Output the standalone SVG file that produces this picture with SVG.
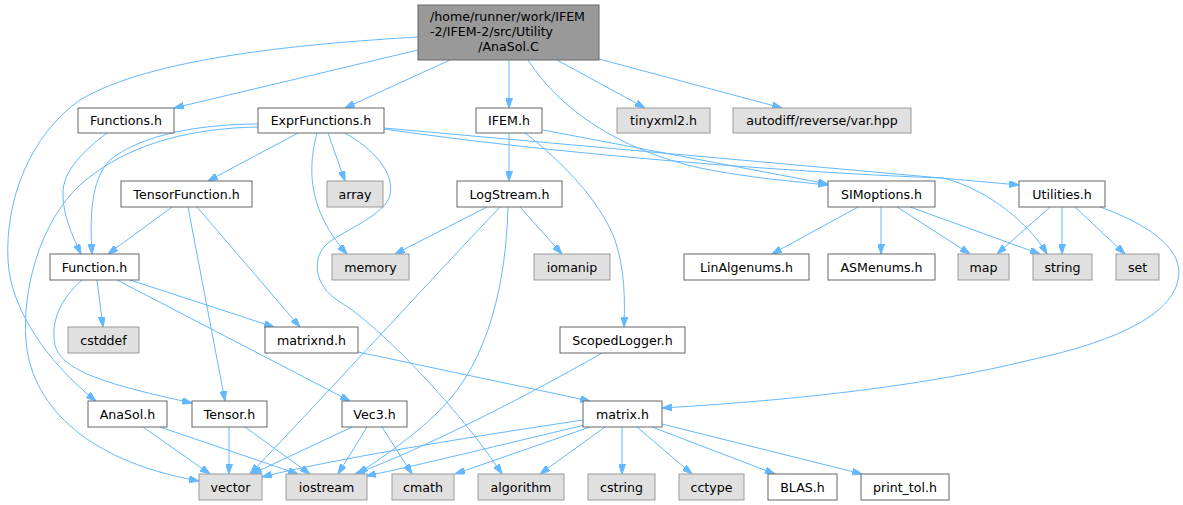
<svg xmlns="http://www.w3.org/2000/svg" width="1183" height="505" viewBox="0 0 1183 505">
<defs>
<marker id="ah" viewBox="0 0 10 7" refX="10" refY="3.5" markerWidth="10" markerHeight="7" markerUnits="userSpaceOnUse" orient="auto">
<path d="M0,0 L10,3.5 L0,7 z" fill="#63b8ff" stroke="#63b8ff" stroke-width="1"/>
</marker>
<style>
.e path{fill:none;stroke:#63b8ff;stroke-width:1;marker-end:url(#ah)}
.n rect{fill:#fff;stroke:#666;stroke-width:1}
.g rect{fill:#e0e0e0;stroke:#999;stroke-width:1}
.r rect{fill:#999;stroke:#666;stroke-width:1}
text{font-family:"DejaVu Sans","Liberation Sans",sans-serif;font-size:12.6px;fill:#000;text-anchor:middle}
</style>
</defs>
<rect width="1183" height="505" fill="#fff"/>
<g class="e" id="connectors">
<path d="M418,37 C300,44 150,58 80,100 C30,135 5,200 8,260 C10,310 50,365 96,401"/>
<path d="M418,50 L174,108"/>
<path d="M450,60 L345,108"/>
<path d="M509,60 L509,108"/>
<path d="M557,60 L645,108"/>
<path d="M599,59 L782,108"/>
<path d="M528,60 C560,110 620,150 700,168 C750,178 790,181 828,185"/>
<path d="M107,133 C85,150 62,170 63,195 C63,215 72,235 81,254"/>
<path d="M258,124 C200,124 140,135 110,160 C90,180 90,220 92,254"/>
<path d="M258,127 C200,128 130,140 80,185 C40,222 22,290 26,340 C30,400 80,460 199,481"/>
<path d="M298,133 L208,181"/>
<path d="M328,133 L345,181"/>
<path d="M317,133 C310,160 303,205 347,254"/>
<path d="M345,133 C372,148 395,172 390,195 C385,215 345,230 328,243 C312,256 312,285 340,302 C380,326 460,410 502,474"/>
<path d="M384,128 L1019,185"/>
<path d="M384,129 C600,160 850,175 943,178 C990,190 1030,225 1047,254"/>
<path d="M509,133 L509,181"/>
<path d="M525,133 C560,160 600,200 615,240 C625,270 625,300 624,327"/>
<path d="M543,130 L828,184"/>
<path d="M172,207 L108,254"/>
<path d="M197,207 L300,327"/>
<path d="M188,207 L225,401"/>
<path d="M487,207 L395,254"/>
<path d="M520,207 L562,254"/>
<path d="M500,207 C440,270 330,390 250,474"/>
<path d="M508,207 C506,280 490,360 440,410 C410,440 380,458 358,474"/>
<path d="M97,280 L103,327"/>
<path d="M130,280 L274,327"/>
<path d="M82,280 C62,298 50,320 55,345 C62,372 110,385 192,403"/>
<path d="M117,280 L350,401"/>
<path d="M358,352 L590,401"/>
<path d="M602,353 C520,400 420,450 355,474"/>
<path d="M143,427 L210,474"/>
<path d="M160,427 L298,474"/>
<path d="M229,427 L229,474"/>
<path d="M245,427 L310,474"/>
<path d="M352,427 L252,474"/>
<path d="M367,427 L338,474"/>
<path d="M382,427 L412,474"/>
<path d="M583,420 C450,440 330,460 262,477"/>
<path d="M585,425 C500,445 420,465 366,476"/>
<path d="M590,427 L455,474"/>
<path d="M605,427 L540,474"/>
<path d="M622,427 L622,474"/>
<path d="M637,427 L692,474"/>
<path d="M652,427 L775,474"/>
<path d="M662,424 L862,474"/>
<path d="M1050,207 L997,254"/>
<path d="M1062,207 L1062,254"/>
<path d="M1075,207 L1125,254"/>
<path d="M1100,207 C1150,225 1185,250 1178,280 C1170,320 1100,345 1030,360 C930,385 800,400 662,408"/>
<path d="M858,207 L772,254"/>
<path d="M881,207 L881,254"/>
<path d="M897,207 L970,254"/>
<path d="M910,207 L1040,254"/>
</g>
<g id="root" class="r"><rect x="418" y="5" width="181" height="55"/>
<text x="430" y="21" style="text-anchor:start">/home/runner/work/IFEM</text>
<text x="430" y="36" style="text-anchor:start">-2/IFEM-2/src/Utility</text>
<text x="508.5" y="51">/AnaSol.C</text></g>
<g id="Functions_h" class="n"><rect x="78" y="108" width="96" height="25"/><text x="126" y="125">Functions.h</text></g>
<g id="ExprFunctions_h" class="n"><rect x="258" y="108" width="126" height="25"/><text x="321" y="125">ExprFunctions.h</text></g>
<g id="IFEM_h" class="n"><rect x="476" y="108" width="66" height="25"/><text x="509" y="125">IFEM.h</text></g>
<g id="tinyxml2_h" class="g"><rect x="617" y="108" width="93" height="25"/><text x="663.5" y="125">tinyxml2.h</text></g>
<g id="autodiff" class="g"><rect x="733" y="108" width="178" height="25"/><text x="822" y="125">autodiff/reverse/var.hpp</text></g>
<g id="TensorFunction_h" class="n"><rect x="121" y="181" width="131" height="26"/><text x="186.5" y="198.5">TensorFunction.h</text></g>
<g id="array" class="g"><rect x="327" y="181" width="56" height="26"/><text x="355" y="198.5">array</text></g>
<g id="LogStream_h" class="n"><rect x="457" y="181" width="105" height="26"/><text x="509.5" y="198.5">LogStream.h</text></g>
<g id="SIMoptions_h" class="n"><rect x="828" y="181" width="107" height="26"/><text x="881.5" y="198.5">SIMoptions.h</text></g>
<g id="Utilities_h" class="n"><rect x="1019" y="181" width="86" height="26"/><text x="1062" y="198.5">Utilities.h</text></g>
<g id="Function_h" class="n"><rect x="50" y="254" width="89" height="26"/><text x="94.5" y="271.5">Function.h</text></g>
<g id="memory" class="g"><rect x="332" y="254" width="77" height="26"/><text x="370.5" y="271.5">memory</text></g>
<g id="iomanip" class="g"><rect x="534" y="254" width="76" height="26"/><text x="572" y="271.5">iomanip</text></g>
<g id="LinAlgenums_h" class="n"><rect x="684" y="254" width="125" height="26"/><text x="746.5" y="271.5">LinAlgenums.h</text></g>
<g id="ASMenums_h" class="n"><rect x="828" y="254" width="107" height="26"/><text x="881.5" y="271.5">ASMenums.h</text></g>
<g id="map" class="g"><rect x="958" y="254" width="51" height="26"/><text x="983.5" y="271.5">map</text></g>
<g id="string" class="g"><rect x="1033" y="254" width="59" height="26"/><text x="1062.5" y="271.5">string</text></g>
<g id="set" class="g"><rect x="1116" y="254" width="43" height="26"/><text x="1137.5" y="271.5">set</text></g>
<g id="cstddef" class="g"><rect x="68" y="327" width="71" height="26"/><text x="103.5" y="344.5">cstddef</text></g>
<g id="matrixnd_h" class="n"><rect x="265" y="327" width="93" height="26"/><text x="311.5" y="344.5">matrixnd.h</text></g>
<g id="ScopedLogger_h" class="n"><rect x="560" y="327" width="125" height="26"/><text x="622.5" y="344.5">ScopedLogger.h</text></g>
<g id="AnaSol_h" class="n"><rect x="88" y="401" width="79" height="26"/><text x="127.5" y="418.5">AnaSol.h</text></g>
<g id="Tensor_h" class="n"><rect x="192" y="401" width="75" height="26"/><text x="229.5" y="418.5">Tensor.h</text></g>
<g id="Vec3_h" class="n"><rect x="342" y="401" width="65" height="26"/><text x="374.5" y="418.5">Vec3.h</text></g>
<g id="matrix_h" class="n"><rect x="583" y="401" width="79" height="26"/><text x="622.5" y="418.5">matrix.h</text></g>
<g id="vector" class="g"><rect x="199" y="474" width="63" height="26"/><text x="230.5" y="491.5">vector</text></g>
<g id="iostream" class="g"><rect x="286" y="474" width="81" height="26"/><text x="326.5" y="491.5">iostream</text></g>
<g id="cmath" class="g"><rect x="392" y="474" width="62" height="26"/><text x="423" y="491.5">cmath</text></g>
<g id="algorithm" class="g"><rect x="478" y="474" width="86" height="26"/><text x="521" y="491.5">algorithm</text></g>
<g id="cstring" class="g"><rect x="588" y="474" width="67" height="26"/><text x="621.5" y="491.5">cstring</text></g>
<g id="cctype" class="g"><rect x="679" y="474" width="65" height="26"/><text x="711.5" y="491.5">cctype</text></g>
<g id="BLAS_h" class="n"><rect x="768" y="474" width="69" height="26"/><text x="802.5" y="491.5">BLAS.h</text></g>
<g id="print_tol_h" class="n"><rect x="861" y="474" width="88" height="26"/><text x="905" y="491.5">print_tol.h</text></g>
</svg>
